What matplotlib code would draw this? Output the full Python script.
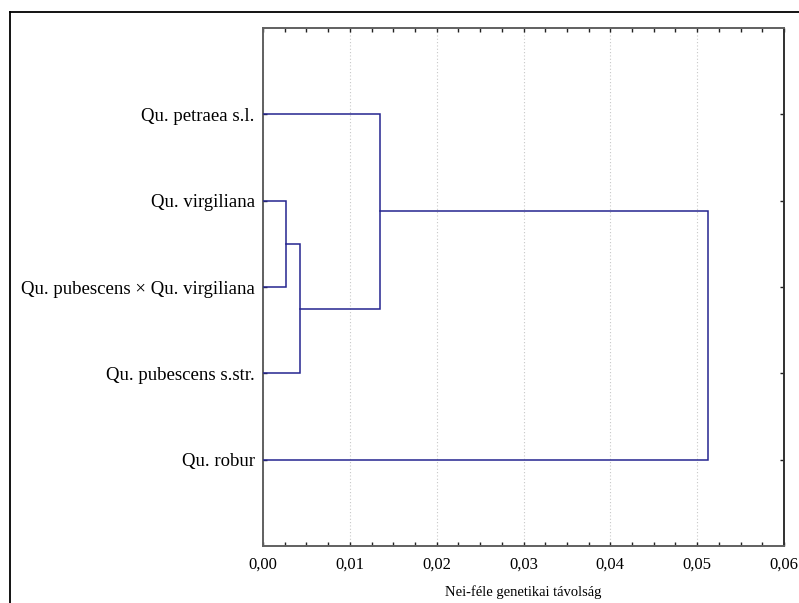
import matplotlib
matplotlib.use("Agg")
import matplotlib.pyplot as plt
from matplotlib.ticker import FuncFormatter, MultipleLocator
from matplotlib.lines import Line2D

# levelek alulról felfelé (y = 1..5)
leaves = ["Qu. robur", "Qu. pubescens s.str.", "Qu. pubescens × Qu. virgiliana",
          "Qu. virgiliana", "Qu. petraea s.l."]
# összevonások: (a, b) csomópont-indexek, 0..4 levelek, 5.. klaszterek
merge_pairs = [(3, 2), (5, 1), (4, 6), (0, 7)]
merge_heights = [0.0026, 0.0043, 0.0135, 0.0513]

LINE_C = "#25258f"
SPINE_C = "#606060"

plt.rcParams["font.family"] = ["Liberation Serif", "DejaVu Serif"]

fig = plt.figure(figsize=(7.99, 6.03), dpi=100)
ax = fig.add_axes([263 / 799, 57 / 603, 521 / 799, 518 / 603])

# csomópontok koordinátái (x = távolság, y = pozíció)
pos = {i: (0.0, i + 1.0) for i in range(len(leaves))}
for k, ((a, b), h) in enumerate(zip(merge_pairs, merge_heights)):
    xa, ya = pos[a]
    xb, yb = pos[b]
    ax.plot([xa, h, h, xb], [ya, ya, yb, yb], color=LINE_C, lw=1.1,
            solid_joinstyle="miter", zorder=3)
    pos[len(leaves) + k] = (h, (ya + yb) / 2)

ax.set_xlim(0, 0.06)
ax.set_ylim(0, 6)
ax.set_yticks(range(1, len(leaves) + 1))
ax.set_yticklabels(leaves, fontsize=13.5)
ax.xaxis.set_major_locator(MultipleLocator(0.01))
ax.xaxis.set_minor_locator(MultipleLocator(0.0025))
ax.xaxis.set_major_formatter(FuncFormatter(lambda v, p: f"{v:.2f}".replace(".", ",")))
ax.tick_params(axis="x", which="both", direction="in", top=True, length=3,
               width=1, color="#222222", labelsize=12, pad=8)
ax.tick_params(axis="y", direction="in", right=True, length=3, width=1,
               color="#222222", pad=6)
ax.grid(axis="x", which="major", ls=(0, (1, 2)), color="#c8c8c8", lw=0.8)
for s in ax.spines.values():
    s.set_color(SPINE_C)
    s.set_linewidth(1.4)
ax.spines["right"].set_color("#303030")
ax.set_xlabel("Nei-féle genetikai távolság", fontsize=10.5, labelpad=9)

# külső keret (bal és felső él)
fig.add_artist(Line2D([10 / 799, 10 / 799], [0, 591 / 603], color="black", lw=1.3))
fig.add_artist(Line2D([10 / 799, 1], [591 / 603, 591 / 603], color="black", lw=1.3))

fig.savefig("out.png", dpi=100)
